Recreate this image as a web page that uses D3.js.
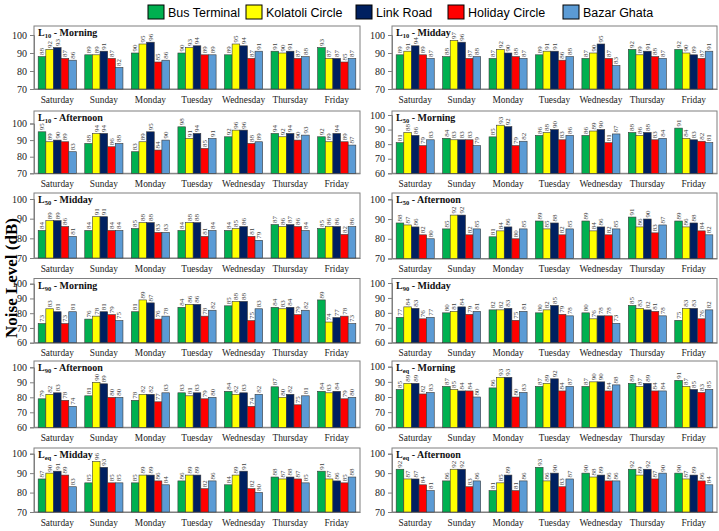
<!DOCTYPE html>
<html><head><meta charset="utf-8">
<script src="https://cdn.jsdelivr.net/npm/d3@7"></script>
<style>body{margin:0;background:#fff}</style></head>
<body><svg id="c" width="719" height="531"></svg>
<script>
const days = ["Saturday","Sunday","Monday","Tuesday","Wednesday","Thursday","Friday"];
const locations = ["Bus Terminal","Kolatoli Circle","Link Road","Holiday Circle","Bazar Ghata"];
const colors = ["#00B050","#FFFF00","#002060","#FF0000","#5B9BD5"];

// values per day: [Bus Terminal, Kolatoli Circle, Link Road, Holiday Circle, Bazar Ghata]
const L10_Morning   = [[88,92,93,87,86],[89,89,91,87,82],[90,95,96,85,86],[90,93,94,89,89],[89,95,94,87,91],[91,90,91,87,88],[93,87,87,85,87]];
const L10_Midday    = [[89,91,94,89,87],[88,97,96,87,88],[87,92,90,88,87],[89,91,91,86,88],[87,90,95,87,83],[92,89,91,88,87],[92,90,89,87,91]];
const L10_Afternoon = [[95,89,90,89,83],[88,94,94,86,88],[83,89,95,84,90],[98,91,94,85,91],[92,96,96,88,89],[94,92,94,90,93],[92,89,94,89,87]];
const L50_Morning   = [[81,88,86,79,83],[84,83,83,83,79],[85,93,92,79,82],[86,88,90,83,86],[86,89,90,81,87],[88,86,88,83,84],[91,84,83,82,81]];
const L50_Midday    = [[84,89,89,86,81],[84,91,91,84,84],[85,88,88,83,83],[84,88,88,81,84],[84,85,86,81,79],[87,86,87,86,84],[85,86,86,82,86]];
const L50_Afternoon = [[88,87,86,82,80],[85,92,92,82,85],[81,84,86,80,85],[89,85,88,82,85],[89,84,86,82,85],[91,86,90,83,87],[89,86,88,84,82]];
const L90_Morning   = [[73,83,81,73,81],[76,78,81,79,75],[81,89,87,76,78],[84,86,86,78,82],[85,88,88,75,83],[84,83,84,79,82],[89,74,77,78,73]];
const L90_Midday    = [[77,84,83,76,77],[80,81,84,79,81],[82,82,83,75,81],[80,82,85,79,78],[80,76,78,78,73],[85,83,82,81,78],[75,83,83,76,82]];
const L90_Afternoon = [[79,82,83,78,74],[81,90,89,80,80],[78,82,82,77,83],[83,81,83,79,80],[84,82,83,74,82],[87,80,82,75,81],[84,83,84,79,80]];
const Leq_Morning   = [[85,89,89,82,83],[87,85,84,84,80],[86,93,93,80,83],[87,89,92,84,87],[87,90,90,84,88],[89,87,89,84,84],[91,87,85,83,85]];
const Leq_Midday    = [[87,90,91,89,83],[85,96,93,85,85],[85,89,89,86,84],[86,89,89,82,86],[84,89,91,82,80],[88,87,88,87,85],[91,87,86,85,88]];
const Leq_Afternoon = [[92,87,87,84,81],[86,92,92,83,86],[81,85,89,81,86],[93,86,90,83,87],[90,88,89,86,86],[92,89,92,87,90],[90,87,89,86,84]];

const ticks70 = [70,80,90,100];
const ticks60 = [60,70,80,90,100];

const panels = [
  {sub:"10", period:"Morning",   data:L10_Morning,   ticks:ticks70, col:0, row:0},
  {sub:"10", period:"Midday",    data:L10_Midday,    ticks:ticks70, col:1, row:0},
  {sub:"10", period:"Afternoon", data:L10_Afternoon, ticks:ticks70, col:0, row:1},
  {sub:"50", period:"Morning",   data:L50_Morning,   ticks:ticks60, col:1, row:1},
  {sub:"50", period:"Midday",    data:L50_Midday,    ticks:ticks70, col:0, row:2},
  {sub:"50", period:"Afternoon", data:L50_Afternoon, ticks:ticks70, col:1, row:2},
  {sub:"90", period:"Morning",   data:L90_Morning,   ticks:ticks60, col:0, row:3},
  {sub:"90", period:"Midday",    data:L90_Midday,    ticks:ticks60, col:1, row:3},
  {sub:"90", period:"Afternoon", data:L90_Afternoon, ticks:ticks60, col:0, row:4},
  {sub:"eq", period:"Morning",   data:Leq_Morning,   ticks:ticks60, col:1, row:4},
  {sub:"eq", period:"Midday",    data:Leq_Midday,    ticks:ticks70, col:0, row:5},
  {sub:"eq", period:"Afternoon", data:Leq_Afternoon, ticks:ticks70, col:1, row:5}
];

// layout (pixels)
const colX = [[34,360],[392,717]];
const frameGeom = { // [frameTop, yTop(100), yBottom(axis)] by "col-row"
  "0-0":[26,35,89],   "1-0":[26,35,89],
  "0-1":[111,123.5,173.3], "1-1":[111,115,173.3],
  "0-2":[193,199,258], "1-2":[193,199.3,258.5],
  "0-3":[278.5,283.7,342.7], "1-3":[278.5,283,342.7],
  "0-4":[361,367.3,427.3], "1-4":[361,366.7,427.3],
  "0-5":[448,453.7,512], "1-5":[448,453.7,512]
};
const legendX = [148,246,356,448,563];

const svg = d3.select("#c");
const serif = "'Liberation Serif','Times New Roman',serif";

panels.forEach(p => {
  const [x0,x1] = colX[p.col];
  const [ft,yt,yb] = frameGeom[p.col+"-"+p.row];
  const y = d3.scaleLinear().domain([p.ticks[0],100]).range([yb,yt]);
  const x = d3.scaleBand().domain(days).range([x0,x1]).paddingInner(0.18).paddingOuter(0.09);
  const xs = d3.scaleBand().domain(locations).range([0,x.bandwidth()]);
  const g = svg.append("g");

  g.append("rect").attr("x",x0).attr("y",ft).attr("width",x1-x0).attr("height",yb-ft)
    .attr("fill","none").attr("stroke","#7f7f7f").attr("stroke-width",1);

  const ya = d3.axisLeft(y).tickValues(p.ticks).tickSize(4).tickPadding(3);
  const ag = g.append("g").attr("transform",`translate(${x0},0)`).call(ya);
  ag.select(".domain").attr("stroke","#7f7f7f");
  ag.selectAll(".tick line").attr("stroke","#7f7f7f");
  ag.selectAll(".tick text").attr("font-family",serif).attr("font-size",10).attr("fill","#222");

  const xa = d3.axisBottom(x).tickSize(0).tickPadding(7);
  const xg = g.append("g").attr("transform",`translate(0,${yb})`).call(xa);
  xg.select(".domain").attr("stroke","#7f7f7f");
  xg.selectAll(".tick text").attr("font-family",serif).attr("font-size",9.4).attr("fill","#222");

  days.forEach((d,i) => {
    const gg = g.append("g").attr("transform",`translate(${x(d)},0)`);
    locations.forEach((loc,j) => {
      const v = p.data[i][j];
      gg.append("rect").attr("x",xs(loc)).attr("y",y(v)).attr("width",xs.bandwidth())
        .attr("height",yb-y(v)).attr("fill",colors[j]).attr("stroke","#3a3a3a").attr("stroke-width",0.6);
      gg.append("text").attr("transform",`translate(${xs(loc)+xs.bandwidth()/2+2.3},${y(v)-1.5}) rotate(-90)`)
        .attr("font-family",serif).attr("font-size",7).attr("fill","#404040").text(v);
    });
  });

  const t = g.append("text").attr("x",x0+4).attr("y",ft+10).attr("font-family",serif)
    .attr("font-weight","bold").attr("font-size",10).attr("fill","#111");
  t.append("tspan").text("L");
  t.append("tspan").attr("font-size",6.5).attr("dy",2).text(p.sub);
  t.append("tspan").attr("dy",-2).text(" - " + p.period);
});

const lg = svg.append("g");
locations.forEach((loc,j) => {
  lg.append("rect").attr("x",legendX[j]).attr("y",5).attr("width",16).attr("height",14)
    .attr("fill",colors[j]).attr("stroke","#000").attr("stroke-width",1);
  lg.append("text").attr("x",legendX[j]+20).attr("y",16.5).attr("font-family","'Liberation Sans',Arial,sans-serif")
    .attr("font-size",12.5).attr("fill","#000").text(loc);
});

svg.append("text").attr("transform","translate(17,278) rotate(-90)").attr("text-anchor","middle")
  .attr("font-family",serif).attr("font-weight","bold").attr("font-size",17).attr("fill","#000")
  .text("Noise Level (dB)");
</script></body></html>
